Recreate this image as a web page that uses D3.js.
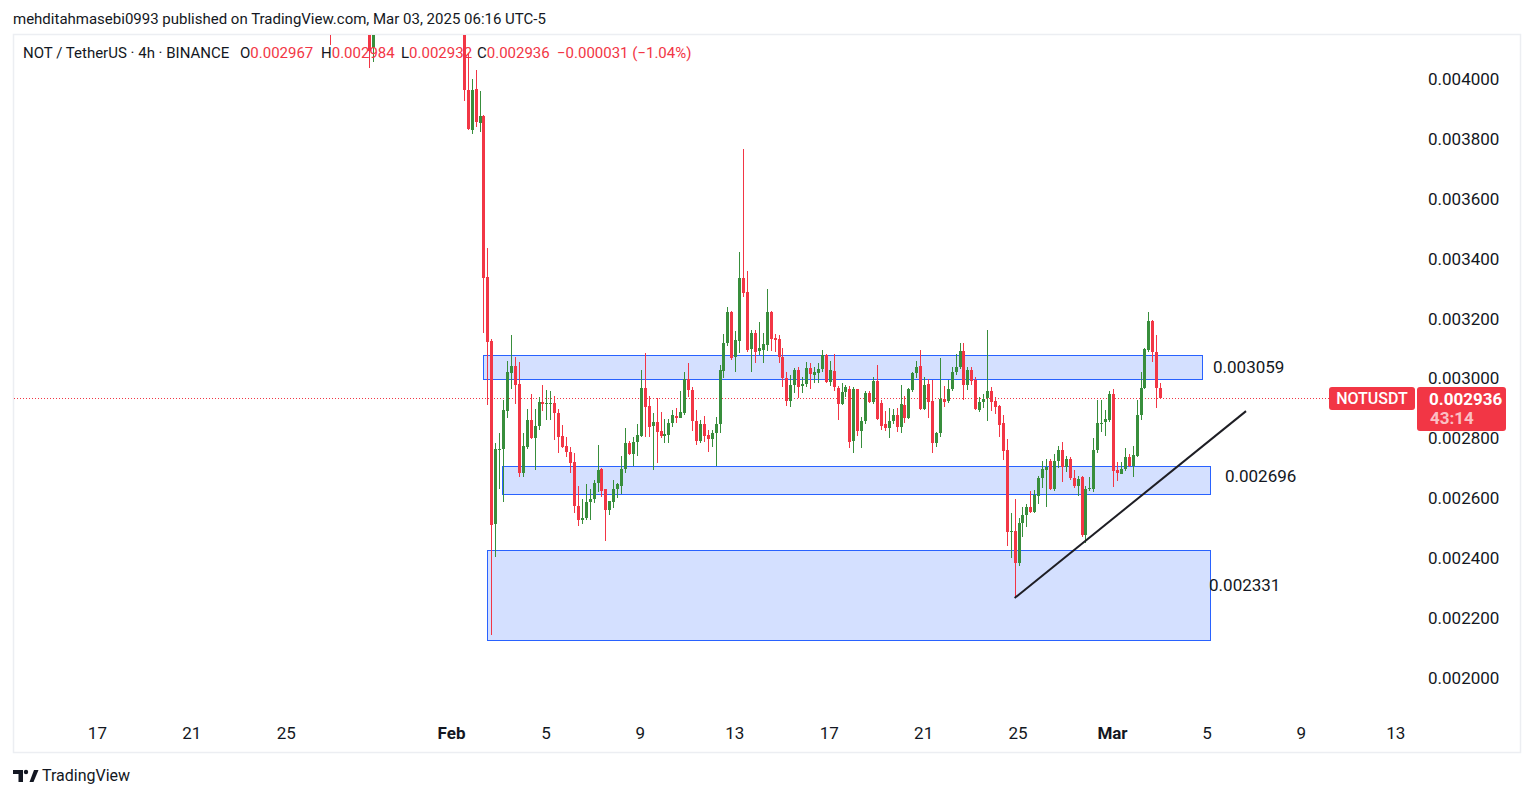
<!DOCTYPE html>
<html>
<head>
<meta charset="utf-8">
<script src="https://cdn.jsdelivr.net/npm/d3@7"></script>
<style>
  html, body { margin: 0; padding: 0; background: #fff; }
  svg { display: block; font-family: Roboto, "Noto Sans", sans-serif; }
</style>
</head>
<body>
<svg id="chart" width="1534" height="798"></svg>
<script>
// NOT / TetherUS 4h candles (BINANCE). Prices are kept as price x 1e6.
const firstCandle = Date.UTC(2025, 0, 26, 21);
const candleStep = 4 * 3600 * 1000;

const open = [
  4200,4160,4240,4290,4270,4220,4250,4300,4280,4230,
  4190,4103,4200,4240,4310,4350,4400,4370,4330,4380,
  4440,4420,4380,4400,4460,4400,4350,4310,4340,4290,
  4250,4280,4260,4220,4200,3963,3830,3967,3854,3876,
  3339,3125,2515,2762,2765,2892,3019,3042,2981,2686,
  2772,2862,2802,2843,2922,2915,2917,2919,2885,2808,
  2775,2755,2721,2575,2528,2535,2589,2598,2650,2698,
  2630,2561,2589,2630,2642,2697,2784,2748,2789,2809,
  2969,2908,2841,2856,2826,2808,2812,2850,2875,2869,
  2886,2997,2962,2859,2792,2848,2811,2799,2817,2848,
  3026,3118,3221,3071,3126,3337,3289,3099,3153,3093,
  3095,3113,3222,3134,3131,3071,3001,2926,2978,3028,
  2976,2982,3034,3012,3020,3032,3078,2989,3025,2967,
  2915,2956,2964,2792,2964,2826,2859,2953,2923,2993,
  2918,2848,2836,2859,2878,2839,2912,2869,2962,3017,
  3042,2897,2982,2925,2786,2817,2932,2926,2965,3023,
  3039,3092,2978,3028,2995,2895,2922,2934,2959,2925,
  2908,2853,2761,2488,2491,2383,2519,2544,2570,2555,
  2609,2667,2695,2725,2630,2725,2761,2706,2730,2667,
  2642,2671,2477,2630,2630,2760,2850,2854,2860,2948,
  2694,2681,2697,2737,2708,2741,2878,2967,3095,3193,3090,2967
];
const high = [
  4230,4260,4310,4330,4300,4260,4320,4340,4290,4250,
  4200,4240,4260,4330,4380,4420,4450,4400,4390,4470,
  4500,4440,4420,4480,4490,4420,4380,4360,4370,4310,
  4300,4320,4290,4260,4230,4088,4000,4030,3960,3880,
  3436,3132,2784,2817,2928,3059,3145,3072,3055,2817,
  2898,2948,2898,2938,2978,2960,2958,2942,2898,2845,
  2806,2770,2750,2641,2597,2648,2630,2661,2778,2702,
  2632,2592,2661,2652,2741,2834,2791,2806,2848,3028,
  3086,2942,2884,2934,2889,2865,2865,2895,2901,2959,
  3022,3053,2973,2895,2861,2875,2828,2828,2871,3045,
  3149,3240,3225,3159,3423,3766,3359,3162,3162,3189,
  3151,3299,3226,3149,3145,3101,3023,3012,3034,3037,
  3006,3055,3051,3037,3051,3095,3082,3058,3082,2975,
  2986,2978,2975,2973,2965,2870,2958,2959,3006,3045,
  2928,2890,2901,2897,2901,2978,2942,2967,3023,3058,
  3095,3004,2997,2995,2822,3069,2975,2995,3039,3082,
  3120,3118,3039,3039,3004,2937,2948,3162,2973,2937,
  2911,2878,2798,2550,2597,2533,2572,2580,2624,2628,
  2675,2725,2730,2730,2747,2775,2787,2741,2739,2695,
  2675,2675,2640,2672,2800,2928,2928,2895,2959,2964,
  2722,2722,2767,2748,2775,2928,3023,3101,3222,3195,3145,2984
];
const low = [
  4114,4155,4220,4250,4200,4180,4230,4260,4200,4170,
  4038,4058,4180,4230,4290,4330,4340,4300,4310,4360,
  4400,4350,4330,4390,4380,4320,4290,4280,4270,4220,
  4210,4240,4190,4170,3928,3830,3815,3841,3824,3153,
  2911,2144,2405,2632,2588,2868,2965,2915,2671,2671,
  2765,2798,2694,2829,2892,2862,2861,2795,2752,2767,
  2739,2683,2552,2509,2513,2527,2527,2585,2622,2605,
  2458,2544,2567,2600,2615,2685,2745,2708,2741,2805,
  2806,2806,2694,2719,2800,2786,2786,2839,2852,2867,
  2878,2939,2826,2778,2786,2788,2756,2770,2708,2817,
  3001,3110,3062,3023,3084,3271,3088,3023,3053,3078,
  3051,3093,3093,3090,3051,2971,2908,2906,2951,2934,
  2953,2971,2964,2984,2986,3023,2986,2975,2958,2861,
  2913,2939,2767,2752,2808,2767,2848,2919,2915,2862,
  2828,2825,2800,2848,2822,2819,2852,2864,2956,3001,
  2895,2895,2867,2750,2770,2806,2906,2917,2959,3012,
  3031,2928,2962,2978,2895,2889,2901,2859,2892,2881,
  2806,2728,2442,2402,2270,2374,2472,2503,2552,2552,
  2581,2633,2572,2628,2625,2700,2655,2689,2661,2633,
  2608,2472,2450,2625,2622,2750,2822,2808,2856,2639,
  2659,2681,2692,2706,2670,2739,2861,2964,3090,3056,2901,2932
];
const close = [
  4160,4240,4290,4270,4220,4250,4300,4280,4230,4190,
  4094,4200,4240,4310,4350,4400,4370,4330,4380,4440,
  4420,4380,4400,4460,4400,4350,4310,4340,4290,4250,
  4280,4260,4220,4200,3963,3833,3963,3857,3876,3336,
  3122,2510,2764,2766,2894,3022,3042,2978,2686,2775,
  2862,2802,2841,2922,2915,2917,2919,2884,2806,2770,
  2756,2719,2575,2528,2535,2587,2598,2650,2695,2625,
  2561,2591,2630,2648,2697,2784,2748,2789,2811,2969,
  2906,2839,2856,2822,2808,2814,2850,2878,2869,2889,
  2997,2962,2859,2792,2848,2808,2799,2817,2848,3028,
  3118,3223,3067,3129,3337,3287,3095,3153,3090,3102,
  3115,3222,3132,3128,3071,3001,2926,2978,3028,2973,
  2982,3034,3015,3023,3032,3078,2989,3028,2971,2915,
  2956,2971,2789,2964,2826,2859,2953,2923,2993,2864,
  2842,2836,2859,2878,2839,2915,2869,2965,3017,3039,
  2897,2978,2923,2786,2817,2932,2923,2965,3023,3039,
  3092,2978,3028,2992,2897,2922,2932,2959,2923,2906,
  2845,2759,2488,2491,2383,2519,2544,2572,2555,2611,
  2667,2697,2706,2630,2725,2761,2706,2730,2667,2642,
  2664,2477,2631,2634,2761,2850,2853,2865,2948,2692,
  2683,2698,2737,2708,2745,2878,2967,3098,3193,3090,2967,2936
];

const priceTicks = [2000, 2200, 2400, 2600, 2800, 3000, 3200, 3400, 3600, 3800, 4000];
const dayTicks = [
  Date.UTC(2025, 0, 17), Date.UTC(2025, 0, 21), Date.UTC(2025, 0, 25),
  Date.UTC(2025, 1, 1), Date.UTC(2025, 1, 5), Date.UTC(2025, 1, 9), Date.UTC(2025, 1, 13),
  Date.UTC(2025, 1, 17), Date.UTC(2025, 1, 21), Date.UTC(2025, 1, 25),
  Date.UTC(2025, 2, 1), Date.UTC(2025, 2, 5), Date.UTC(2025, 2, 9), Date.UTC(2025, 2, 13)
];

// rectangle zones drawn on the chart, with their price notes
const zoneStart = [Date.UTC(2025, 1, 2, 8, 30), Date.UTC(2025, 1, 3, 4), Date.UTC(2025, 1, 2, 12, 30)];
const zoneEnd = [Date.UTC(2025, 2, 4, 19, 30), Date.UTC(2025, 2, 5, 3, 30), Date.UTC(2025, 2, 5, 3, 30)];
const zoneTop = [3078, 2708, 2427];
const zoneBottom = [2998, 2614, 2127];
const notePrice = [3059, 2696, 2331];
const noteAt = [Date.UTC(2025, 2, 5, 6, 40), Date.UTC(2025, 2, 5, 18, 50), Date.UTC(2025, 2, 5, 2, 40)];

// trend line
const trendDates = [Date.UTC(2025, 1, 24, 21), Date.UTC(2025, 2, 6, 16, 15)];
const trendPrices = [2267, 2891];

const countdown = '43:14';

const UP = '#388e3c', DOWN = '#f23645', TEXT = '#131722';

const svg = d3.select('#chart');

const x = d3.scaleUtc()
  .domain([Date.UTC(2025, 1, 1), Date.UTC(2025, 2, 1)])
  .range([451, 1112]);

const y = d3.scaleLinear()
  .domain([2000, 4000])
  .range([678, 79]);

const fmt = v => (v / 1e6).toFixed(6);

const candles = open.map((o, i) => ({
  t: new Date(firstCandle + i * candleStep),
  o, h: high[i], l: low[i], c: close[i]
}));
const last = candles[candles.length - 1];
const prev = candles[candles.length - 2];

svg.append('rect').attr('width', 1534).attr('height', 798).attr('fill', '#fff');

// header
svg.append('text')
  .attr('x', 13).attr('y', 24)
  .attr('font-size', 15).attr('fill', TEXT)
  .text('mehditahmasebi0993 published on TradingView.com, Mar 03, 2025 06:16 UTC-5');

// pane border
svg.append('rect')
  .attr('x', 13.5).attr('y', 34.5).attr('width', 1507).attr('height', 718)
  .attr('fill', 'none').attr('stroke', '#eceef2').attr('stroke-width', 1.5);

svg.append('clipPath').attr('id', 'plot-clip')
  .append('rect').attr('x', 14).attr('y', 35).attr('width', 1406).attr('height', 680);

const plot = svg.append('g').attr('clip-path', 'url(#plot-clip)');

// zones
const zones = zoneTop.map((top, i) => ({
  x0: zoneStart[i], x1: zoneEnd[i], top, bottom: zoneBottom[i], note: notePrice[i], at: noteAt[i]
}));

plot.selectAll('.zone')
  .data(zones)
  .enter().append('rect')
  .attr('class', 'zone')
  .attr('x', d => Math.round(x(d.x0)) + 0.5)
  .attr('y', d => Math.round(y(d.top)) + 0.5)
  .attr('width', d => Math.round(x(d.x1) - x(d.x0)))
  .attr('height', d => Math.round(y(d.bottom) - y(d.top)))
  .attr('fill', 'rgba(41, 98, 255, 0.2)')
  .attr('stroke', '#2962ff')
  .attr('stroke-width', 1);

// last price dotted line
plot.append('line')
  .attr('x1', 14).attr('x2', 1329)
  .attr('y1', Math.round(y(last.c)) + 0.5).attr('y2', Math.round(y(last.c)) + 0.5)
  .attr('stroke', DOWN).attr('stroke-width', 1)
  .attr('stroke-dasharray', '1 2');

// candles
const candle = plot.selectAll('.candle')
  .data(candles)
  .enter().append('g')
  .attr('class', 'candle')
  .attr('shape-rendering', 'crispEdges');

candle.append('line')
  .attr('x1', d => Math.round(x(d.t)) + 0.5)
  .attr('x2', d => Math.round(x(d.t)) + 0.5)
  .attr('y1', d => y(d.h))
  .attr('y2', d => y(d.l))
  .attr('stroke', d => d.c >= d.o ? UP : DOWN)
  .attr('stroke-width', 1);

candle.append('rect')
  .attr('x', d => Math.round(x(d.t)) - 1)
  .attr('width', 3)
  .attr('y', d => y(Math.max(d.o, d.c)))
  .attr('height', d => Math.max(1, Math.abs(y(d.o) - y(d.c))))
  .attr('fill', d => d.c >= d.o ? UP : DOWN);

// trend line
plot.append('line')
  .attr('x1', x(trendDates[0])).attr('y1', y(trendPrices[0]))
  .attr('x2', x(trendDates[1])).attr('y2', y(trendPrices[1]))
  .attr('stroke', '#1e1e24').attr('stroke-width', 2);

// zone price notes
svg.selectAll('.zone-note')
  .data(zones)
  .enter().append('text')
  .attr('class', 'zone-note')
  .attr('x', d => x(d.at))
  .attr('y', d => y(d.note) + 12)
  .attr('font-size', 17).attr('fill', TEXT)
  .text(d => fmt(d.note));

// legend
const chg = last.c - prev.c;
const pct = chg / prev.c * 100;
const minus = s => s.replace('-', '\u2212');

svg.append('text')
  .attr('x', 23).attr('y', 58).attr('font-size', 15).attr('fill', TEXT)
  .text('NOT / TetherUS \u00b7 4h \u00b7 BINANCE');

const ohlc = [['O', last.o, 240], ['H', last.h, 321], ['L', last.l, 401], ['C', last.c, 477]];
ohlc.forEach(([k, v, px]) => {
  const t = svg.append('text').attr('x', px).attr('y', 58).attr('font-size', 15);
  t.append('tspan').attr('fill', TEXT).text(k);
  t.append('tspan').attr('fill', DOWN).text(fmt(v));
});
svg.append('text')
  .attr('x', 557).attr('y', 58).attr('font-size', 15).attr('fill', DOWN)
  .text(minus((chg / 1e6).toFixed(6)) + ' (' + minus(pct.toFixed(2)) + '%)');

// price axis
const yAxis = svg.append('g')
  .attr('transform', 'translate(1428,0)')
  .call(d3.axisRight(y).tickValues(priceTicks).tickSize(0).tickPadding(0).tickFormat(fmt));
yAxis.select('.domain').remove();
yAxis.selectAll('text').attr('font-size', 17).attr('fill', TEXT).attr('font-family', 'Roboto, sans-serif');

// time axis
const xAxis = svg.append('g')
  .attr('transform', 'translate(0,727)')
  .call(d3.axisBottom(x).tickValues(dayTicks.map(d => new Date(d))).tickSize(0).tickPadding(0)
    .tickFormat(d => d.getUTCDate() === 1 ? d3.utcFormat('%b')(d) : d.getUTCDate()));
xAxis.select('.domain').remove();
xAxis.selectAll('text')
  .attr('font-size', 17).attr('fill', TEXT).attr('font-family', 'Roboto, sans-serif')
  .attr('font-weight', d => d.getUTCDate() === 1 ? 700 : 400);

// symbol tag and last price tag
const tagY = Math.round(y(last.c));
svg.append('rect')
  .attr('x', 1329).attr('y', tagY - 11).attr('width', 86).attr('height', 23).attr('rx', 3)
  .attr('fill', DOWN);
svg.append('text')
  .attr('x', 1372).attr('y', tagY + 6).attr('text-anchor', 'middle')
  .attr('font-size', 16).attr('font-weight', 500).attr('fill', '#fff')
  .text('NOTUSDT');

svg.append('rect')
  .attr('x', 1417).attr('y', tagY - 11).attr('width', 89).attr('height', 44).attr('rx', 3)
  .attr('fill', DOWN);
svg.append('text')
  .attr('x', 1429).attr('y', tagY + 7)
  .attr('font-size', 17).attr('font-weight', 700).attr('fill', '#fff')
  .text(fmt(last.c));
svg.append('text')
  .attr('x', 1430).attr('y', tagY + 26)
  .attr('font-size', 17).attr('font-weight', 700).attr('fill', 'rgba(255,255,255,0.7)')
  .text(countdown);

// TradingView logo
const logo = svg.append('g').attr('fill', TEXT);
logo.append('path').attr('d', 'M13,770 H23 V782 H18.5 V774 H13 Z');
logo.append('circle').attr('cx', 26).attr('cy', 772).attr('r', 2.2);
logo.append('path').attr('d', 'M29.5,782 L34,770 H38.5 L33.5,782 Z');
svg.append('text')
  .attr('x', 42).attr('y', 781).attr('font-size', 16).attr('fill', TEXT)
  .text('TradingView');
</script>
</body>
</html>
